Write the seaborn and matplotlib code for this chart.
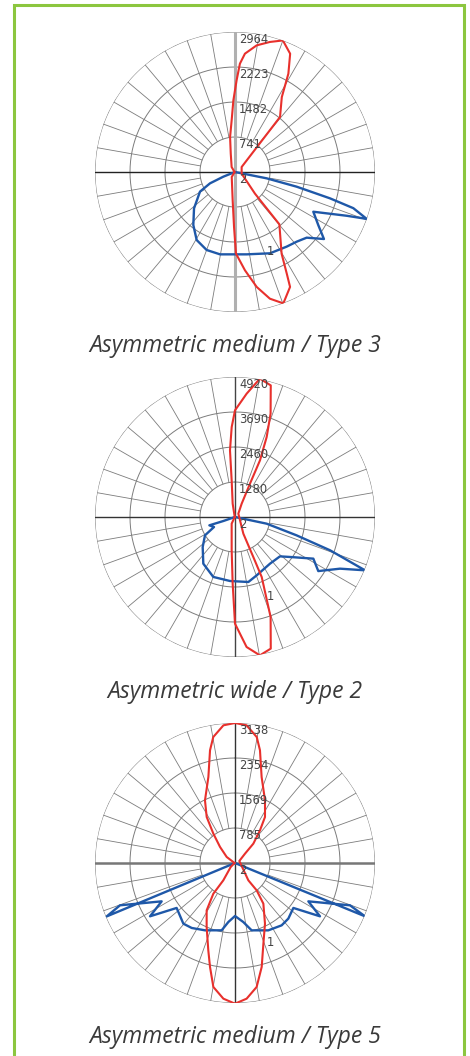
import numpy as np
import matplotlib
matplotlib.use("Agg")
import matplotlib.pyplot as plt
import seaborn as sns
from matplotlib.patches import Rectangle
from matplotlib.transforms import offset_copy

sns.set_theme(style="white")

# Figure size in pixels
W, H = 470, 1056
dpi = 100

# -----------------------------------------------------------------------------
# Data (angle in degrees clockwise from top, intensity in cd)
# -----------------------------------------------------------------------------

# Asymmetric medium / Type 3
t3_red_ang = [270, 326, 347, 352, 356.3, 358.7, 1, 2.6, 4.8, 9.7, 15, 20, 25, 28.5,
              32, 39.3, 53, 104, 137.3, 139.7, 150.3, 153, 154.4, 159.8, 164.6,
              169.3, 174.2, 179.3, 181, 184.7, 213, 270]
t3_red_val = [10, 127, 399, 748, 1096, 1518, 1941, 2296, 2514, 2720, 2850, 2964, 2763, 2368,
              1870, 1505, 176, 145, 624, 1452, 1992, 2414, 2698, 2964, 2782,
              2477, 2093, 1729, 1164, 602, 127, 10]
t3_blue_ang = [90, 101.3, 103.4, 105.5, 107, 109.6, 111.4, 116.9, 122.5, 127, 132.5,
               138.5, 145.3, 156.7, 171.9, 190.3, 200, 209.4, 218.2, 228.4, 240.7,
               245.6, 248.2, 270]
t3_blue_val = [0, 684, 1342, 2087, 2620, 2960, 2539, 1859, 2090, 2358, 2058,
               1970, 1922, 1874, 1761, 1772, 1757, 1653, 1427, 1160, 850,
               581, 266, 0]

# Asymmetric wide / Type 2
t2_red_ang = [270, 350.1, 354.8, 355.7, 357.9, 0, 5.4, 10.2, 15.2, 19, 21.6, 23.8,
              24.2, 26.6, 45, 153.4, 155.4, 156, 160.4, 164.8, 169.8, 174.9, 180,
              182, 185.7, 206.6, 270]
t2_red_val = [10, 476, 1294, 2350, 3165, 3749, 4354, 4940, 4793, 3842, 3023, 2177,
              1285, 524, 166, 655, 1546, 2307, 3731, 4793, 4940, 4587, 3749,
              2345, 1177, 262, 10]
t2_blue_ang = [90, 101.9, 106.6, 109.3, 112.3, 116.2, 123, 118, 126, 131.2, 143,
               159.6, 168.4, 184.5, 199.9, 214.2, 227.1, 238.6, 244.5, 252, 251, 270]
t2_blue_val = [0, 1137, 2261, 3538, 4938, 4113, 3490, 3118, 2390, 2100, 2050,
               2187, 2332, 2256, 2240, 1982, 1550, 1236, 817, 948, 433, 0]

# Asymmetric medium / Type 5
t5_red_ang = [270, 306, 317, 323.6, 328.4, 334.4, 342.8, 347.5, 350.2, 355.2, 0,
              4.8, 9.8, 12.5, 17.2, 25.6, 33.1, 37.4, 43.5, 47, 65, 142.4, 141.6,
              145.1, 153.7, 160.6, 165.6, 170.1, 175.1, 180, 184.9, 189.9, 193.5,
              197, 203.9, 210.9, 215.2, 214, 227, 270]
t5_red_val = [10, 230, 492, 817, 1211, 1557, 2018, 2587, 2865, 3097, 3138,
              3097, 2865, 2587, 2018, 1557, 1231, 922, 597, 306, 107, 490, 782,
              1111, 1517, 1916, 2406, 2821, 3052, 3153, 3052, 2821, 2398,
              2047, 1569, 1237, 842, 468, 132, 10]
t5_blue_ang = [90, 112.3, 110.2, 117.6, 122.1, 127.6, 136.2, 143.2, 153.7, 166.1,
               172, 180, 186.4, 191.2, 204, 213.7, 220.4, 232.4, 237.9, 242.4,
               249.8, 247.4, 270]
t5_blue_val = [0, 3149, 2746, 1855, 2249, 1651, 1727, 1745, 1684, 1555,
               1336, 1188, 1330, 1538, 1652, 1750, 1786, 1651, 2249, 1855,
               2746, 3115, 0]

charts = [
    dict(title="Asymmetric medium / Type 3", rmax=2964,
         rings=["741", "1482", "2223", "2964"],
         red=(t3_red_ang, t3_red_val), blue=(t3_blue_ang, t3_blue_val),
         cy=172, title_y=346,
         vline=("#b0b0b0", 2.2), hline=("#222222", 1.0)),
    dict(title="Asymmetric wide / Type 2", rmax=4920,
         rings=["1280", "2460", "3690", "4920"],
         red=(t2_red_ang, t2_red_val), blue=(t2_blue_ang, t2_blue_val),
         cy=517, title_y=692,
         vline=("#444444", 1.0), hline=("#333333", 1.0)),
    dict(title="Asymmetric medium / Type 5", rmax=3138,
         rings=["785", "1569", "2354", "3138"],
         red=(t5_red_ang, t5_red_val), blue=(t5_blue_ang, t5_blue_val),
         cy=863, title_y=1037,
         vline=("#333333", 1.0), hline=("#777777", 1.8)),
]

red = "#e8302c"
blue = "#1f58a8"
grid_col = "#7c7c7c"

# -----------------------------------------------------------------------------
# Plot
# -----------------------------------------------------------------------------

fig = plt.figure(figsize=(W / dpi, H / dpi), dpi=dpi)
fig.patch.set_facecolor("white")

cx, R = 235, 140
theta_c = np.linspace(0, 2 * np.pi, 361)

for c in charts:
    rect = [(cx - R) / W, 1 - (c["cy"] + R) / H, 2 * R / W, 2 * R / H]
    ax = fig.add_axes(rect, projection="polar")
    ax.set_theta_zero_location("N")
    ax.set_theta_direction(-1)
    ax.set_ylim(0, c["rmax"])
    ax.set_axis_off()

    rmax = c["rmax"]
    ring_r = [rmax * (k + 1) / 4 for k in range(4)]

    # rings
    for rr in ring_r:
        ax.plot(theta_c, np.full_like(theta_c, rr), color=grid_col, lw=0.7, zorder=1)
    # spokes every 10 deg, from inner ring outwards
    for a in range(0, 360, 10):
        ax.plot([np.radians(a)] * 2, [ring_r[0], rmax], color=grid_col, lw=0.6, zorder=1)
    # cross hair
    ax.plot([0, np.pi], [rmax, rmax], color=c["vline"][0], lw=c["vline"][1], zorder=2)
    ax.plot([np.pi / 2, 3 * np.pi / 2], [rmax, rmax], color=c["hline"][0], lw=c["hline"][1], zorder=2)

    # curves
    sns.lineplot(x=np.radians(c["blue"][0]), y=c["blue"][1], sort=False, estimator=None,
                 color=blue, lw=1.7, ax=ax, zorder=4)
    sns.lineplot(x=np.radians(c["red"][0]), y=c["red"][1], sort=False, estimator=None,
                 color=red, lw=1.5, ax=ax, zorder=5)

    # ring labels
    tr = offset_copy(ax.transData, fig=fig, x=4, y=-1, units="dots")
    for rr, lab in zip(ring_r, c["rings"]):
        ax.text(0, rr, lab, transform=tr, ha="left", va="top", fontsize=8.3,
                color="#444444", zorder=6)
    ax.text(0, 0, "2", transform=tr, ha="left", va="top", fontsize=8.3, color="#444444", zorder=6)
    ax.text(np.radians(156), rmax * 0.625, "1", ha="center", va="center", fontsize=8.3,
            color="#444444", zorder=6)

    fig.text(0.5, 1 - c["title_y"] / H, c["title"], ha="center", va="center",
             fontsize=16.5, style="italic", color="#3a3a3a",
             family=["Open Sans", "DejaVu Sans"])

# green frame
fig.patches.append(Rectangle((13.5 / W, -0.02), (464 - 13.5) / W, 1.02 - 5.3 / H,
                             transform=fig.transFigure, fill=False,
                             edgecolor="#8cc63f", lw=2.2, zorder=0))

fig.savefig("out.png", dpi=dpi)
